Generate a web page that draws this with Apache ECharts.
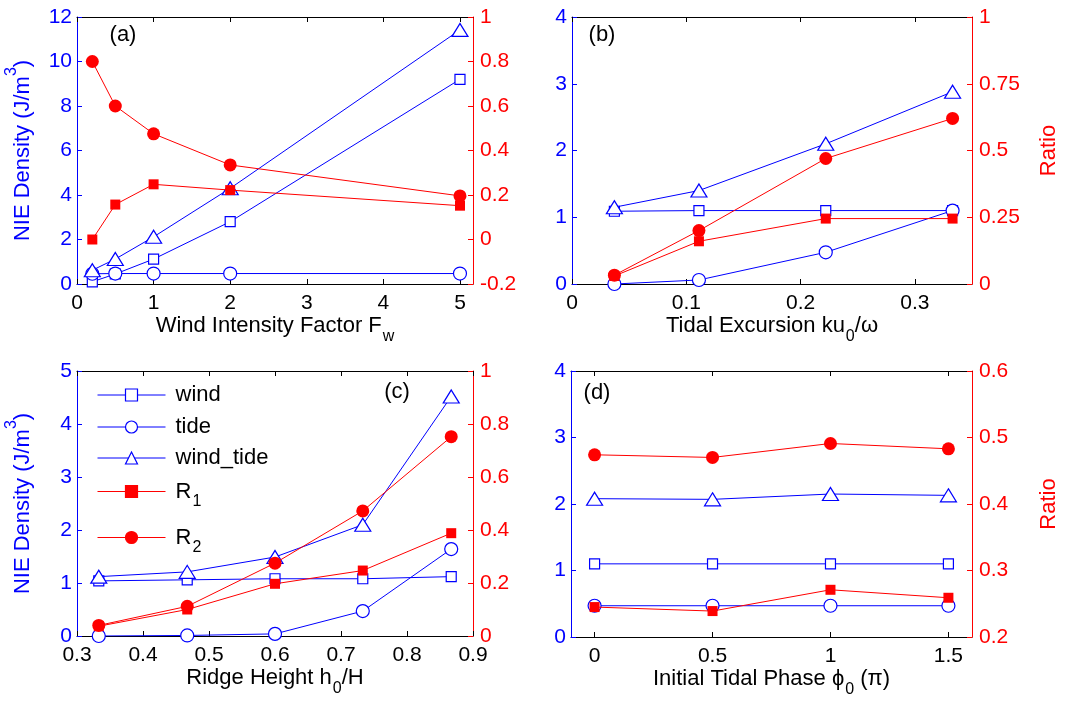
<!DOCTYPE html>
<html><head><meta charset="utf-8">
<script src="https://cdn.jsdelivr.net/npm/echarts@6/dist/echarts.min.js"></script>
<style>html,body{margin:0;padding:0;background:#fff}#c{width:1066px;height:703px}</style>
</head><body><div id="c"></div><script>
// ---------- data ----------
// (a) wind intensity factor
const xA = [0.2, 0.5, 1, 2, 5];
const windA = [0.1, 0.45, 1.12, 2.8, 9.2];
const tideA = [0.46, 0.47, 0.47, 0.47, 0.47];
const windTideA = [0.62, 1.12, 2.12, 4.3, 11.42];
const r1A = [0.0, 0.157, 0.248, 0.222, 0.152];
const r2A = [0.8, 0.6, 0.475, 0.335, 0.196];
// (b) tidal excursion
const xB = [0.037, 0.111, 0.222, 0.333];
const windB = [1.09, 1.1, 1.1, 1.1];
const tideB = [0.0, 0.06, 0.475, 1.1];
const windTideB = [1.15, 1.4, 2.1, 2.88];
const r1B = [0.03, 0.16, 0.245, 0.245];
const r2B = [0.033, 0.2, 0.47, 0.62];
// (c) ridge height
const xC = [0.333, 0.467, 0.6, 0.733, 0.867];
const windC = [1.04, 1.06, 1.08, 1.08, 1.12];
const tideC = [0.0, 0.01, 0.04, 0.47, 1.64];
const windTideC = [1.12, 1.21, 1.49, 2.1, 4.52];
const r1C = [0.037, 0.1, 0.197, 0.247, 0.388];
const r2C = [0.04, 0.112, 0.275, 0.472, 0.752];
// (d) initial tidal phase
const xD = [0, 0.5, 1, 1.5];
const windD = [1.1, 1.1, 1.1, 1.1];
const tideD = [0.47, 0.47, 0.47, 0.47];
const windTideD = [2.08, 2.07, 2.15, 2.13];
const r1D = [0.245, 0.239, 0.271, 0.259];
const r2D = [0.474, 0.47, 0.491, 0.483];
// tick labels
const ticksA = [0, 1, 2, 3, 4, 5];
const ticksB = [0, 0.1, 0.2, 0.3];
const ticksC = [0.3, 0.4, 0.5, 0.6, 0.7, 0.8, 0.9];
const ticksD = [0, 0.5, 1, 1.5];
const seriesNames = ['wind', 'tide', 'wind_tide', 'R1', 'R2'];

// ---------- styling ----------
const F = '"Liberation Sans", Arial, sans-serif';
const BLUE = '#0000ff', RED = '#ff0000', BLK = '#000';
const FT = 21;   // tick labels
const FN = 22;   // axis names / legend

function rich(color) {
  return {
    n: {fontSize: FN, fontFamily: F, color: color, lineHeight: 26, verticalAlign: 'middle'},
    s: {fontSize: 16, fontFamily: F, color: color, height: 2, lineHeight: 2, padding: [21, 0, 0, 1], verticalAlign: 'middle'},
    p: {fontSize: 16, fontFamily: F, color: color, height: 2, lineHeight: 2, padding: [0, 0, 22, 0], verticalAlign: 'middle'},
    g: {width: 5, height: 2, lineHeight: 2}
  };
}

const grids = [
  {left: 77, top: 17, width: 396, height: 267},
  {left: 572, top: 17, width: 400, height: 267},
  {left: 77, top: 371, width: 396, height: 265},
  {left: 571, top: 371, width: 401, height: 266}
];
const xRanges = [[0, 5.17], [-0.0001, 0.35], [0.3, 0.9], [-0.1, 1.6]];
const xTickSets = [ticksA, ticksB, ticksC, ticksD];
const xNames = [
  '{n|Wind Intensity Factor F}{s|w}',
  '{n|Tidal Excursion ku}{s|0}{n|/ω}',
  '{n|Ridge Height h}{s|0}{n|/H}',
  '{n|Initial Tidal Phase ϕ}{s|0}{n| (π)}'
];
const xNameGaps = [29, 29, 29, 29];
const yLeft = [[0, 12, 2], [0, 4, 1], [0, 5, 1], [0, 4, 1]];
const yRight = [[-0.2, 1, 0.2], [0, 1, 0.25], [0, 1, 0.2], [0.2, 0.6, 0.1]];

const fmt = v => String(Math.round(v * 1000) / 1000);

const xAxes = [], yAxes = [];
grids.forEach((g, i) => {
  xAxes.push({
    type: 'value', gridIndex: i, position: 'bottom',
    min: xRanges[i][0], max: xRanges[i][1],
    name: xNames[i], nameLocation: 'middle', nameGap: xNameGaps[i],
    nameTextStyle: {rich: rich(BLK)},
    axisLine: {show: true, onZero: false, lineStyle: {color: BLK, width: 1}},
    axisTick: {show: true, inside: true, length: 5, customValues: xTickSets[i], lineStyle: {color: BLK}},
    axisLabel: {show: true, customValues: xTickSets[i], formatter: fmt, margin: 9,
      color: BLK, fontSize: FT, fontFamily: F},
    splitLine: {show: false}
  });
  xAxes.push({
    type: 'value', gridIndex: i, position: 'top',
    min: xRanges[i][0], max: xRanges[i][1],
    axisLine: {show: true, onZero: false, lineStyle: {color: BLK, width: 1}},
    axisTick: {show: true, inside: true, length: 5, customValues: xTickSets[i], lineStyle: {color: BLK}},
    axisLabel: {show: false},
    splitLine: {show: false}
  });
  const L = yLeft[i], R = yRight[i];
  yAxes.push({
    type: 'value', gridIndex: i, position: 'left',
    min: L[0], max: L[1], interval: L[2],
    name: (i === 0 || i === 2) ? '{n|NIE Density (J/m}{p|3}{n|)}' : '',
    nameLocation: 'middle', nameGap: 41,
    nameTextStyle: {rich: rich(BLUE)},
    axisLine: {show: true, onZero: false, lineStyle: {color: BLUE, width: 1}},
    axisTick: {show: true, inside: true, length: 5, lineStyle: {color: BLUE}},
    axisLabel: {color: BLUE, fontSize: FT, fontFamily: F, margin: 5, formatter: fmt},
    splitLine: {show: false}
  });
  yAxes.push({
    type: 'value', gridIndex: i, position: 'right',
    min: R[0], max: R[1], interval: R[2],
    name: (i === 1 || i === 3) ? '{n|Ratio}' : '',
    nameLocation: 'middle', nameGap: 64,
    nameTextStyle: {rich: rich(RED)},
    axisLine: {show: true, onZero: false, lineStyle: {color: RED, width: 1}},
    axisTick: {show: true, inside: true, length: 5, lineStyle: {color: RED}},
    axisLabel: {color: RED, fontSize: FT, fontFamily: F, margin: 7, formatter: fmt},
    splitLine: {show: false}
  });
});

const panels = [
  [xA, windA, tideA, windTideA, r1A, r2A],
  [xB, windB, tideB, windTideB, r1B, r2B],
  [xC, windC, tideC, windTideC, r1C, r2C],
  [xD, windD, tideD, windTideD, r1D, r2D]
];
const markerStyles = [
  {symbol: 'rect', size: 10, hollow: true, color: BLUE, right: false},
  {symbol: 'circle', size: 13, hollow: true, color: BLUE, right: false},
  {symbol: 'triangle', size: [16, 13], hollow: true, color: BLUE, right: false},
  {symbol: 'rect', size: 10, hollow: false, color: RED, right: true},
  {symbol: 'circle', size: 13, hollow: false, color: RED, right: true}
];

const series = [];
panels.forEach((p, gi) => {
  const xs = p[0];
  for (let k = 0; k < 5; k++) {
    const ys = p[k + 1], m = markerStyles[k];
    series.push({
      type: 'line', name: seriesNames[k],
      xAxisIndex: gi * 2, yAxisIndex: gi * 2 + (m.right ? 1 : 0),
      data: xs.map((x, j) => [x, ys[j]]),
      symbol: m.symbol, symbolSize: m.size, showSymbol: true, showAllSymbol: true,
      lineStyle: {color: m.color, width: 1},
      itemStyle: m.hollow ? {color: '#fff', borderColor: m.color, borderWidth: 1.2}
                          : {color: m.color, borderColor: m.color, borderWidth: 0},
      emphasis: {disabled: true},
      z: m.right ? 4 : 3,
      animation: false
    });
  }
});

const labelPos = [['(a)', 123, 35], ['(b)', 602, 35], ['(c)', 397, 392], ['(d)', 597, 393]];
const legendTops = [384, 416, 447, 480, 526];

const option = {
  backgroundColor: '#fff',
  animation: false,
  grid: grids.map(g => Object.assign({containLabel: false}, g)),
  xAxis: xAxes,
  yAxis: yAxes,
  legend: seriesNames.map((nm, k) => ({
    orient: 'vertical', left: 97, top: legendTops[k], padding: 0,
    itemWidth: 68, itemHeight: 15,
    data: [nm],
    selectedMode: false,
    lineStyle: {width: 1},
    itemStyle: {borderWidth: 1.2},
    formatter: n => n === 'R1' ? '{g|}{n|R}{s|1}' : n === 'R2' ? '{g|}{n|R}{s|2}' : '{g|}{n|' + n + '}',
    textStyle: {rich: rich(BLK)}
  })),
  graphic: labelPos.map(l => ({
    type: 'text', x: l[1], y: l[2], silent: true,
    style: {text: l[0], fill: BLK, font: FN + 'px ' + F, textAlign: 'center', textVerticalAlign: 'middle'}
  })),
  series: series
};

const chart = echarts.init(document.getElementById('c'), null, {renderer: 'canvas'});
chart.setOption(option);
</script></body></html>
